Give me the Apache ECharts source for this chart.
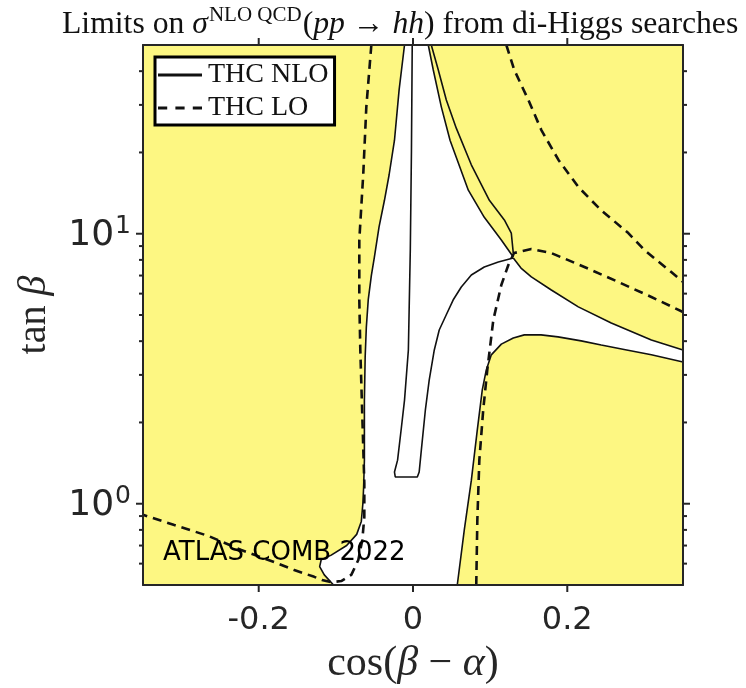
<!DOCTYPE html>
<html>
<head>
<meta charset="utf-8">
<script src="https://cdn.jsdelivr.net/npm/echarts@6/dist/echarts.min.js"></script>
<style>
  html, body { margin: 0; padding: 0; background: #ffffff; }
  #chart { width: 746px; height: 688px; }
</style>
</head>
<body>
<div id="chart"></div>
<script>
// Axes: x = cos(beta - alpha), y = tan(beta) on a log scale
const xRange = [-0.35, 0.35];
const yRange = [0.5, 50];
const xTickValues = [-0.2, 0, 0.2];
const yMajorTickValues = [1, 10];
const yMinorTickValues = [0.6, 0.7, 0.8, 0.9, 2, 3, 4, 5, 6, 7, 8, 9, 20, 30, 40];

// THC NLO contours, points as [cos(beta-alpha), tan(beta)]
const nloLeftEdge = [
  [-0.011, 50], [-0.018, 34.1], [-0.024, 22.2], [-0.031, 16.5], [-0.037, 13.3],
  [-0.044, 10.6], [-0.050, 8.2], [-0.054, 7.0], [-0.058, 5.7], [-0.0605, 4.5],
  [-0.062, 3.5], [-0.063, 2.4], [-0.063, 1.8], [-0.063, 1.45], [-0.064, 1.15],
  [-0.065, 1.0], [-0.067, 0.86], [-0.073, 0.77], [-0.086, 0.70], [-0.106, 0.645],
  [-0.119, 0.62], [-0.121, 0.585], [-0.115, 0.545], [-0.103, 0.5]
];
const nloLowerRight = [
  [0.0574, 0.5], [0.0665, 0.80], [0.0756, 1.22], [0.0834, 1.88], [0.0898, 2.64],
  [0.095, 3.13], [0.1015, 3.56], [0.1145, 3.90], [0.130, 4.11], [0.1443, 4.22],
  [0.166, 4.22], [0.188, 4.15], [0.218, 4.01], [0.244, 3.87], [0.277, 3.71],
  [0.309, 3.56], [0.35, 3.35]
];
const nloTongueUpper = [
  [0.130, 8.13], [0.140, 7.46], [0.1534, 6.92], [0.1793, 6.19], [0.2143, 5.36],
  [0.257, 4.67], [0.309, 4.04], [0.35, 3.71]
];
const nloRightEdge = [
  [0.0198, 50], [0.0263, 40.4], [0.0367, 29.5], [0.048, 22.2], [0.0717, 14.5],
  [0.0924, 11.5], [0.1145, 9.48], [0.130, 8.2]
];
const nloOuterRight = [
  [0.0237, 50], [0.0328, 40.4], [0.0432, 31.3], [0.0561, 24.6], [0.0756, 18.0],
  [0.099, 13.3], [0.1184, 11.25], [0.1274, 10.06], [0.130, 8.48]
];
const nloCentralSpike = [
  [-0.001, 50], [-0.002, 20.4], [-0.0035, 8.7], [-0.006, 3.71], [-0.011, 2.42],
  [-0.015, 1.92], [-0.020, 1.45], [-0.024, 1.31], [-0.023, 1.256], [0.0056, 1.256],
  [0.008, 1.31], [0.0108, 1.58], [0.016, 2.22], [0.021, 2.87], [0.0276, 3.71],
  [0.034, 4.40], [0.043, 5.0], [0.052, 5.68], [0.0626, 6.35], [0.0756, 7.03],
  [0.0924, 7.53], [0.1106, 7.86], [0.130, 8.13]
];

// THC LO contours
const loLeft = [
  [-0.054, 50], [-0.0605, 29.5], [-0.0644, 16.8], [-0.0696, 9.48], [-0.0696, 5.68],
  [-0.0683, 3.71], [-0.0657, 2.10], [-0.0631, 1.19], [-0.0631, 0.893], [-0.0657, 0.734],
  [-0.0709, 0.619], [-0.080, 0.545], [-0.093, 0.517], [-0.106, 0.512], [-0.118, 0.522],
  [-0.128, 0.536], [-0.154, 0.568], [-0.18, 0.608], [-0.2226, 0.674], [-0.2654, 0.76],
  [-0.3094, 0.834], [-0.35, 0.91]
];
const loLowerRight = [
  [0.082, 0.5], [0.0834, 0.87], [0.086, 1.45], [0.091, 2.22], [0.0963, 3.13],
  [0.1041, 4.79], [0.1145, 6.46], [0.1236, 7.66], [0.131, 8.48], [0.1534, 8.78],
  [0.1793, 8.48], [0.2222, 7.53], [0.266, 6.63], [0.309, 5.83], [0.35, 5.13]
];
const loUpperRight = [
  [0.121, 50], [0.1313, 40.4], [0.1495, 31.3], [0.1664, 24.2], [0.1884, 18.8],
  [0.2143, 14.9], [0.2311, 13.3], [0.2441, 12.2], [0.2791, 10.06], [0.2998, 8.71],
  [0.3348, 7.21], [0.35, 6.63]
];

const LABEL_TEXTS = {
  title: '{n|Limits on }{i|σ}{s|NLO QCD}{n|(}{i|pp}{n| → }{i|hh}{n|) from di-Higgs searches}',
  xName: '{n|cos(}{i|β}{n| − }{i|α}{n|)}',
  yName: '{n|tan }{i|β}',
  note: 'ATLAS COMB 2022',
  nlo: 'THC NLO',
  lo: 'THC LO'
};

// Allowed (white) region: left edge down, lower-right edge out to the border,
// back along the tongue and up the right edge to the top.
const allowedRegion = nloLeftEdge.concat(
  nloLowerRight,
  nloTongueUpper.slice().reverse(),
  nloRightEdge.slice().reverse()
);

const YELLOW = '#fdf782';
const INK = '#111111';
const AXIS_INK = '#262626';
const SERIF = 'Liberation Serif';
const SANS = 'DejaVu Sans';

const near = (a, b) => Math.abs(a - b) < 1e-6 * Math.max(1, Math.abs(b));

function nloLine(data) {
  return {
    type: 'line', name: LABEL_TEXTS.nlo, data: data, symbol: 'none', color: INK,
    lineStyle: { color: INK, width: 1.6 }, z: 4, silent: true, animation: false
  };
}
function loLine(data) {
  return {
    type: 'line', name: LABEL_TEXTS.lo, data: data, symbol: 'none', color: INK,
    lineStyle: { color: INK, width: 2.6, type: [9, 6] }, z: 5, silent: true, animation: false
  };
}

const chart = echarts.init(document.getElementById('chart'), null, { renderer: 'canvas' });

const serifStyle = (size, italic, color) => ({
  fontFamily: SERIF, fontSize: size, fontWeight: 'normal',
  fontStyle: italic ? 'italic' : 'normal', color: color
});

const option = {
  animation: false,
  backgroundColor: '#ffffff',
  title: {
    text: LABEL_TEXTS.title,
    left: 62, top: 5, padding: 0,
    textStyle: {
      fontWeight: 'normal',
      rich: {
        n: Object.assign(serifStyle(31.7, false, INK), { lineHeight: 36, verticalAlign: 'bottom' }),
        i: Object.assign(serifStyle(31.7, true, INK), { lineHeight: 36, verticalAlign: 'bottom' }),
        s: Object.assign(serifStyle(21, false, INK), { lineHeight: 21, verticalAlign: 'top', padding: [0, 1, 0, 1] })
      }
    }
  },
  grid: {
    left: 143, top: 45, width: 540, height: 540,
    show: true, backgroundColor: YELLOW, borderWidth: 0,
    outerBoundsMode: 'none', containLabel: false
  },
  legend: {
    orient: 'vertical', left: 155, top: 57,
    backgroundColor: '#ffffff', borderColor: '#000000', borderWidth: 3,
    padding: [4, 6, 3, 3], itemGap: 5, itemWidth: 44, itemHeight: 14,
    selectedMode: false,
    textStyle: Object.assign(serifStyle(28, false, INK), { padding: [0, 0, 0, 1] }),
    itemStyle: { color: INK },
    data: [
      { name: LABEL_TEXTS.nlo, icon: 'path://M0,0H44V3H0Z' },
      { name: LABEL_TEXTS.lo, icon: 'path://M0,0H9V3H0Z M17,0H26V3H17Z M34,0H43V3H34Z' }
    ],
    z: 20
  },
  xAxis: [
    {
      type: 'value', min: xRange[0], max: xRange[1], interval: 0.05, position: 'bottom',
      axisLine: { show: true, onZero: false, lineStyle: { color: AXIS_INK, width: 2 } },
      axisTick: { show: false }, splitLine: { show: false },
      axisLabel: {
        show: true, margin: 20, color: AXIS_INK, fontFamily: SANS, fontSize: 32,
        formatter: v => { const t = xTickValues.find(t => near(v, t)); return t === undefined ? '' : String(t); }
      },
      name: LABEL_TEXTS.xName, nameLocation: 'middle', nameGap: 58,
      nameTextStyle: {
        rich: {
          n: serifStyle(42, false, AXIS_INK),
          i: serifStyle(42, true, AXIS_INK)
        }
      },
      z: 10
    },
    {
      type: 'value', min: xRange[0], max: xRange[1], interval: 0.05, position: 'top',
      axisLine: { show: true, onZero: false, lineStyle: { color: AXIS_INK, width: 2 } },
      axisTick: { show: false }, splitLine: { show: false }, axisLabel: { show: false },
      z: 10
    }
  ],
  yAxis: [
    {
      type: 'log', logBase: 10, min: yRange[0], max: yRange[1], position: 'left',
      axisLine: { show: true, onZero: false, lineStyle: { color: AXIS_INK, width: 2 } },
      axisTick: { show: false }, splitLine: { show: false }, minorTick: { show: false },
      axisLabel: {
        show: true, margin: 12, color: AXIS_INK,
        formatter: v => {
          if (near(v, 1)) return '{b|10}{e|0}';
          if (near(v, 10)) return '{b|10}{e|1}';
          return '';
        },
        rich: {
          b: { fontFamily: SANS, fontSize: 36, color: AXIS_INK, lineHeight: 40, verticalAlign: 'bottom' },
          e: { fontFamily: SANS, fontSize: 25, color: AXIS_INK, lineHeight: 28, verticalAlign: 'top', padding: [0, 0, 26, 1] }
        }
      },
      name: LABEL_TEXTS.yName, nameLocation: 'middle', nameGap: 89, nameRotate: 90,
      nameTextStyle: {
        rich: {
          n: serifStyle(40, false, AXIS_INK),
          i: serifStyle(40, true, AXIS_INK)
        }
      },
      z: 10
    },
    {
      type: 'log', logBase: 10, min: yRange[0], max: yRange[1], position: 'right',
      axisLine: { show: true, onZero: false, lineStyle: { color: AXIS_INK, width: 2 } },
      axisTick: { show: false }, splitLine: { show: false }, axisLabel: { show: false },
      z: 10
    }
  ],
  graphic: [
    {
      type: 'text', left: 163, top: 540, z: 30, silent: true,
      style: { text: LABEL_TEXTS.note, fill: '#000000', font: '26px "DejaVu Sans"' }
    }
  ],
  series: [
    {
      type: 'custom', name: 'allowed', silent: true, clip: true, z: 1,
      data: [[0, 1]],
      renderItem: (params, api) => ({
        type: 'polygon',
        shape: { points: allowedRegion.map(p => api.coord(p)) },
        style: { fill: '#ffffff', stroke: null }
      })
    },
    {
      // outward tick marks on all four sides
      type: 'custom', name: 'ticks', silent: true, clip: false, z: 11,
      data: [[0, 1]],
      renderItem: (params, api) => {
        const cs = params.coordSys;
        const left = cs.x, right = cs.x + cs.width, top = cs.y, bottom = cs.y + cs.height;
        const children = [];
        const seg = (x1, y1, x2, y2) => children.push({
          type: 'line', shape: { x1, y1, x2, y2 },
          style: { stroke: AXIS_INK, lineWidth: 2 }
        });
        yMinorTickValues.forEach(v => {
          const y = api.coord([0, v])[1];
          seg(left - 4, y, left, y); seg(right, y, right + 4, y);
        });
        yMajorTickValues.forEach(v => {
          const y = api.coord([0, v])[1];
          seg(left - 7, y, left, y); seg(right, y, right + 7, y);
        });
        xTickValues.forEach(v => {
          const x = api.coord([v, 1])[0];
          seg(x, bottom, x, bottom + 7); seg(x, top - 7, x, top);
        });
        return { type: 'group', children };
      }
    },
    nloLine(nloLeftEdge),
    nloLine(nloLowerRight),
    nloLine(nloTongueUpper),
    nloLine(nloRightEdge),
    nloLine(nloOuterRight),
    nloLine(nloCentralSpike),
    loLine(loLeft),
    loLine(loLowerRight),
    loLine(loUpperRight)
  ]
};

chart.setOption(option);
</script>
</body>
</html>
